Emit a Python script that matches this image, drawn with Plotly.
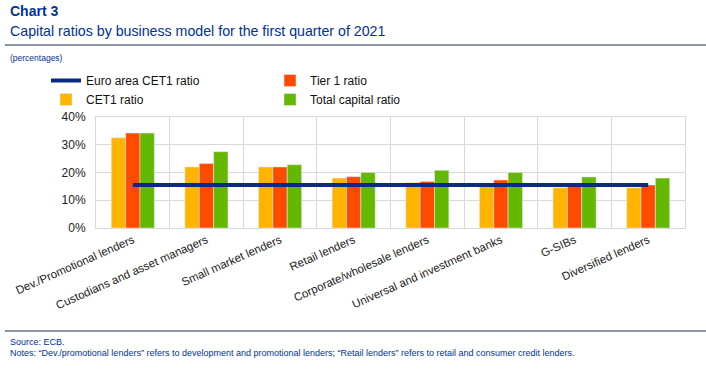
import plotly.graph_objects as go

categories = ["Dev./Promotional lenders", "Custodians and asset managers", "Small market lenders",
              "Retail lenders", "Corporate/wholesale lenders", "Universal and investment banks",
              "G-SIBs", "Diversified lenders"]
cet1 = [32.5, 22.0, 22.0, 18.0, 16.4, 15.5, 14.5, 14.5]
tier1 = [34.2, 23.2, 22.0, 18.5, 16.8, 17.3, 15.2, 15.5]
total = [34.2, 27.5, 22.8, 20.0, 20.8, 20.0, 18.4, 18.0]
euro_area_cet1 = [15.5] * len(categories)
y_ticks = [0, 10, 20, 30, 40]
y_tick_labels = ["0%", "10%", "20%", "30%", "40%"]

NAVY = "#003299"

fig = go.Figure()
fig.add_trace(go.Bar(x=categories, y=cet1, name="CET1 ratio", marker_color="#ffb400",
                     legend="legend", legendrank=2))
fig.add_trace(go.Bar(x=categories, y=tier1, name="Tier 1 ratio", marker_color="#ff4b00",
                     legend="legend2", legendrank=1))
fig.add_trace(go.Bar(x=categories, y=total, name="Total capital ratio", marker_color="#65b800",
                     legend="legend2", legendrank=2))
fig.add_trace(go.Scatter(x=categories, y=euro_area_cet1, name="Euro area CET1 ratio", mode="lines",
                         line=dict(color="#0b2a80", width=4), legend="legend", legendrank=1))

# page px: plot area left 96, right 685, top 117, bottom 228
L, R, T, B = 96, 685, 117, 228
W, H = 706, 378

def py(ypx):
    return (B - ypx) / float(B - T)

def px(xpx):
    return (xpx - L) / float(R - L)

legend_common = dict(orientation="v", xanchor="left", yanchor="top", traceorder="normal",
                     font=dict(size=12, color="#111111"), itemwidth=30, bgcolor="rgba(0,0,0,0)")

fig.update_layout(
    width=W, height=H,
    margin=dict(l=L, r=W - R, t=T, b=H - B),
    paper_bgcolor="white", plot_bgcolor="white",
    font=dict(family="Liberation Sans, Arial, sans-serif", color="#222222"),
    barmode="group", bargap=0.415, bargroupgap=0,
    showlegend=True,
    legend=dict(x=px(46), y=py(66), **legend_common),
    legend2=dict(x=px(270), y=py(66), **legend_common),
    xaxis=dict(type="category", tickson="boundaries", showgrid=True, gridcolor="#d9d9d9",
               ticks="", tickangle=-24, tickfont=dict(size=11.5, color="#222222"),
               showline=True, linecolor="#d9d9d9", mirror=True, zeroline=False),
    yaxis=dict(range=[0, 40], tickvals=y_ticks, ticktext=y_tick_labels, showgrid=True,
               gridcolor="#d9d9d9", tickfont=dict(size=12, color="#222222"), showline=True,
               linecolor="#d9d9d9", mirror=True, zeroline=False, ticks="", ticklabelstandoff=7),
    shapes=[
        dict(type="line", xref="paper", yref="paper", x0=px(5), x1=px(706), y0=py(45), y1=py(45),
             line=dict(color="#1f2f4f", width=1)),
        dict(type="line", xref="paper", yref="paper", x0=px(5), x1=px(706), y0=py(331), y1=py(331),
             line=dict(color="#1f2f4f", width=1)),
    ],
    annotations=[
        dict(text="<b>Chart 3</b>", xref="paper", yref="paper", x=px(8), y=py(11), xanchor="left",
             yanchor="middle", showarrow=False, font=dict(size=14, color=NAVY)),
        dict(text="Capital ratios by business model for the first quarter of 2021", xref="paper",
             yref="paper", x=px(8), y=py(31), xanchor="left", yanchor="middle", showarrow=False,
             font=dict(size=14.2, color=NAVY)),
        dict(text="(percentages)", xref="paper", yref="paper", x=px(8), y=py(58), xanchor="left",
             yanchor="middle", showarrow=False, font=dict(size=8.5, color=NAVY)),
        dict(text="Source: ECB.", xref="paper", yref="paper", x=px(8), y=py(342), xanchor="left",
             yanchor="middle", showarrow=False, font=dict(size=9, color=NAVY)),
        dict(text="Notes: \u201cDev./promotional lenders\u201d refers to development and promotional lenders; "
                  "\u201cRetail lenders\u201d refers to retail and consumer credit lenders.",
             xref="paper", yref="paper", x=px(8), y=py(353), xanchor="left", yanchor="middle",
             showarrow=False, font=dict(size=9, color=NAVY)),
    ],
)

fig.write_html("out.html", config={"displayModeBar": False},
               post_script="document.body.style.margin='0';")
